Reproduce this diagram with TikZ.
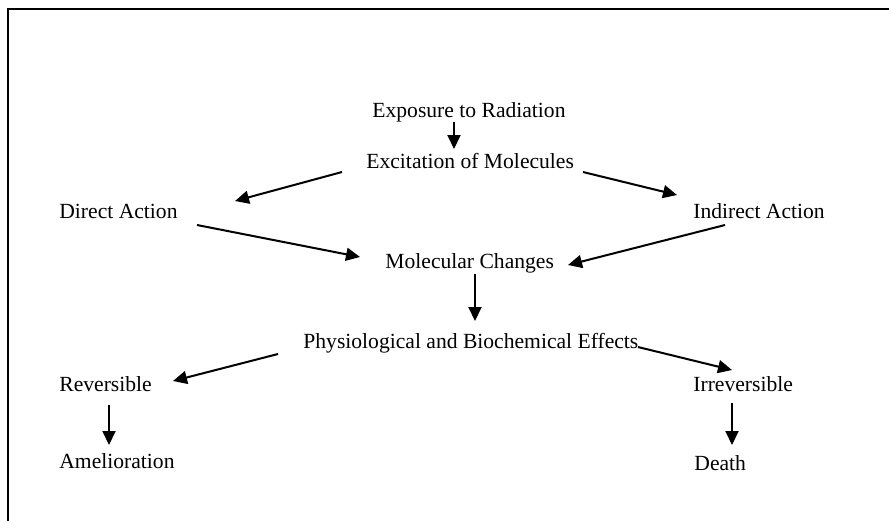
\documentclass[tikz,border=0pt]{standalone}
\usepackage{fontspec}
\setmainfont{Liberation Serif}
\usetikzlibrary{arrows.meta}

\tikzset{lbl/.style={inner sep=0pt,anchor=base west,font=\fontsize{10.8}{13}\selectfont},
         arr/.style={-{Triangle[length=7pt,width=6.5pt]},line width=1pt}}

\begin{document}
\begin{tikzpicture}[x=0.5pt,y=-0.5pt]
  \useasboundingbox (0,0) rectangle (889,521);
  \draw[line width=1pt] (8,521) -- (8,9) -- (889,9);

  \node[lbl] (expo)     at (372,117) {Exposure to Radiation};
  \node[lbl] (excite)   at (366,168) {Excitation of Molecules};
  \node[lbl] (direct)   at (59,218)  {Direct Action};
  \node[lbl] (indirect) at (693,218) {Indirect Action};
  \node[lbl] (molec)    at (385,268) {Molecular Changes};
  \node[lbl] (physio)   at (303,348) {Physiological and Biochemical Effects};
  \node[lbl] (rev)      at (59,391)  {Reversible};
  \node[lbl] (irrev)    at (693,391) {Irreversible};
  \node[lbl] (amel)     at (59,468)  {Amelioration};
  \node[lbl] (death)    at (694,470) {Death};

  % arrow ends
  \coordinate (expo-s)     at (454,122);  \coordinate (excite-n)  at (454,149);
  \coordinate (excite-sw)  at (342,172);  \coordinate (direct-ne) at (235,201);
  \coordinate (excite-se)  at (583,172);  \coordinate (indir-nw)  at (677,195);
  \coordinate (direct-se)  at (197,225);  \coordinate (molec-w)   at (360,257);
  \coordinate (indir-sw)   at (725,225);  \coordinate (molec-e)   at (568,265);
  \coordinate (molec-s)    at (475,274);  \coordinate (physio-n)  at (475,321);
  \coordinate (physio-sw)  at (278,354);  \coordinate (rev-ne)    at (173,381);
  \coordinate (physio-se)  at (638,347);  \coordinate (irrev-nw)  at (732,370);
  \coordinate (rev-s)      at (109,405);  \coordinate (amel-n)    at (109,445);
  \coordinate (irrev-s)    at (732,403);  \coordinate (death-n)   at (732,445);

  \draw[arr] (expo-s)    -- (excite-n);
  \draw[arr] (excite-sw) -- (direct-ne);
  \draw[arr] (excite-se) -- (indir-nw);
  \draw[arr] (direct-se) -- (molec-w);
  \draw[arr] (indir-sw)  -- (molec-e);
  \draw[arr] (molec-s)   -- (physio-n);
  \draw[arr] (physio-sw) -- (rev-ne);
  \draw[arr] (physio-se) -- (irrev-nw);
  \draw[arr] (rev-s)     -- (amel-n);
  \draw[arr] (irrev-s)   -- (death-n);
\end{tikzpicture}
\end{document}
